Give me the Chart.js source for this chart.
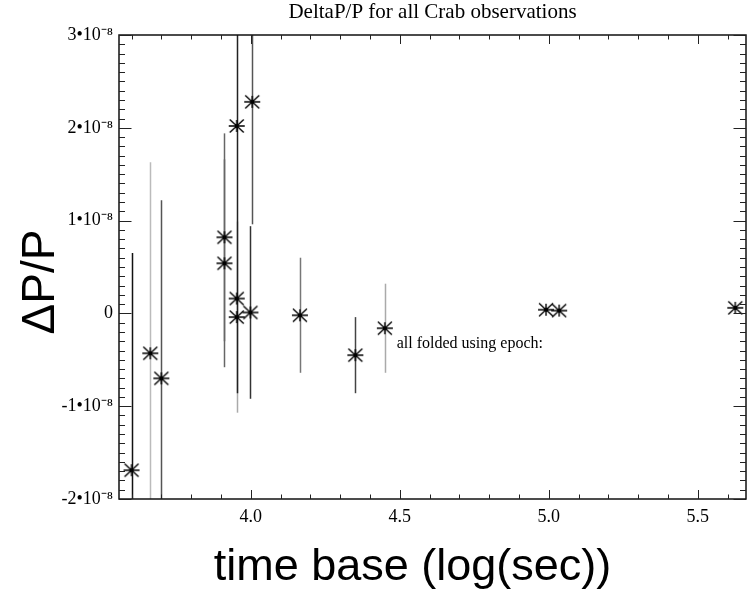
<!DOCTYPE html>
<html>
<head>
<meta charset="utf-8">
<script src="https://cdn.jsdelivr.net/npm/chart.js@4.4.1/dist/chart.umd.min.js"></script>
<style>
  body { margin: 0; background: #fff; }
  canvas { display: block; }
</style>
</head>
<body>
<canvas id="crabChart" width="749" height="591"></canvas>
<script>
// values (x = log10 of time base, y = dP/P)
const logTime  = [3.600, 3.663, 3.700, 3.912, 3.912, 3.953, 3.953, 3.953, 3.999, 4.005, 4.165, 4.351, 4.450, 4.991, 5.035, 5.626];
const deltaP   = [-1.69e-8, -0.43e-8, -0.70e-8, 0.82e-8, 0.54e-8, -0.04e-8, 0.16e-8, 2.02e-8, 0.01e-8, 2.28e-8, -0.02e-8, -0.45e-8, -0.16e-8, 0.04e-8, 0.03e-8, 0.06e-8];
const deltaErr = [2.34e-8, 2.06e-8, 1.92e-8, 1.12e-8, 1.12e-8, 1.03e-8, 0, 2.88e-8, 0.93e-8, 1.32e-8, 0.62e-8, 0.41e-8, 0.48e-8, 0.02e-8, 0.02e-8, 0.02e-8];
const errColor = ['#111', '#bbb', '#555', '#666', '#666', '#aaa', '#666', '#222', '#333', '#555', '#777', '#444', '#aaa', '#555', '#555', '#555'];

const xTickVals = [4.0, 4.5, 5.0, 5.5];
const xTickLabels = ['4.0', '4.5', '5.0', '5.5'];
const yTickVals = [-2e-8, -1e-8, 0, 1e-8, 2e-8, 3e-8];
const yTickLabels = ['-2\u202210\u207B\u2078', '-1\u202210\u207B\u2078', '0', '1\u202210\u207B\u2078', '2\u202210\u207B\u2078', '3\u202210\u207B\u2078'];

const chartTitle = 'DeltaP/P for all Crab observations';
const xTitle = 'time base (log(sec))';
const yTitle = '\u0394P/P';
const noteText = 'all folded using epoch:';
const noteX = 4.49, noteY = -0.376e-8;

// asterisk marker
const star = document.createElement('canvas');
star.width = 20; star.height = 20;
(function () {
  const g = star.getContext('2d');
  g.strokeStyle = '#000';
  g.lineWidth = 1.4;
  g.beginPath();
  g.moveTo(3, 3.5); g.lineTo(17, 16.5);
  g.moveTo(17, 3.5); g.lineTo(3, 16.5);
  g.moveTo(2, 10); g.lineTo(18, 10);
  g.moveTo(10, 4); g.lineTo(10, 16);
  g.stroke();
  g.fillStyle = '#000';
  g.beginPath(); g.arc(10, 10, 1.8, 0, Math.PI * 2); g.fill();
})();

const serif = 'Liberation Serif';
const sans = 'Liberation Sans';

const errorBars = {
  id: 'errorBars',
  beforeDatasetsDraw(chart) {
    const {ctx, chartArea: a, scales: {x, y}} = chart;
    ctx.save();
    ctx.beginPath();
    ctx.rect(a.left, a.top, a.right - a.left, a.bottom - a.top);
    ctx.clip();
    ctx.lineWidth = 1.5;
    logTime.forEach((t, i) => {
      if (!deltaErr[i]) return;
      const px = Math.round(x.getPixelForValue(t)) + 0.5;
      ctx.strokeStyle = errColor[i];
      ctx.beginPath();
      ctx.moveTo(px, y.getPixelForValue(deltaP[i] - deltaErr[i]));
      ctx.lineTo(px, y.getPixelForValue(deltaP[i] + deltaErr[i]));
      ctx.stroke();
    });
    ctx.restore();
  }
};

const frameAndText = {
  id: 'frameAndText',
  afterDraw(chart) {
    const {ctx, chartArea: a, scales: {x, y}} = chart;
    ctx.save();
    ctx.strokeStyle = '#111';
    ctx.lineWidth = 1.5;
    ctx.strokeRect(a.left, a.top, a.right - a.left, a.bottom - a.top);

    // inward ticks on all four sides
    ctx.lineWidth = 1;
    ctx.strokeStyle = '#222';
    ctx.beginPath();
    for (let k = 36; k <= 56; k++) {
      const v = k / 10;
      if (v < x.min || v > x.max) continue;
      const px = Math.round(x.getPixelForValue(v)) + 0.5;
      const len = (k % 5 === 0) ? 9 : 4.5;
      ctx.moveTo(px, a.bottom); ctx.lineTo(px, a.bottom - len);
      ctx.moveTo(px, a.top); ctx.lineTo(px, a.top + len);
    }
    for (let k = -20; k <= 30; k++) {
      const v = k * 1e-9;
      const py = Math.round(y.getPixelForValue(v)) + 0.5;
      const len = (k % 10 === 0) ? 12.5 : 6;
      ctx.moveTo(a.left, py); ctx.lineTo(a.left + len, py);
      ctx.moveTo(a.right, py); ctx.lineTo(a.right - len, py);
    }
    ctx.stroke();

    ctx.fillStyle = '#000';
    // main title
    ctx.font = '21px "' + serif + '"';
    ctx.textAlign = 'center';
    ctx.textBaseline = 'alphabetic';
    ctx.fillText(chartTitle, (a.left + a.right) / 2, 18);

    // x axis title
    ctx.font = '45px "' + sans + '"';
    ctx.fillText(xTitle, (a.left + a.right) / 2 - 20, 580);

    // y axis title
    ctx.save();
    ctx.translate(54, (a.top + a.bottom) / 2 + 15);
    ctx.rotate(-Math.PI / 2);
    ctx.font = '46px "' + sans + '"';
    ctx.fillText(yTitle, 0, 0);
    ctx.restore();

    // note
    ctx.font = '16px "' + serif + '"';
    ctx.textAlign = 'left';
    ctx.fillText(noteText, x.getPixelForValue(noteX), y.getPixelForValue(noteY));
    ctx.restore();
  }
};

const tickFont = {family: serif, size: 18};

new Chart(document.getElementById('crabChart').getContext('2d'), {
  type: 'scatter',
  data: {
    datasets: [{
      data: logTime.map((t, i) => ({x: t, y: deltaP[i]})),
      pointStyle: star,
      pointRadius: 8,
      showLine: false
    }]
  },
  options: {
    responsive: false,
    animation: false,
    devicePixelRatio: 1,
    layout: {autoPadding: false, padding: {top: 35, right: 3, left: 0, bottom: 0}},
    plugins: {legend: {display: false}, tooltip: {enabled: false}},
    scales: {
      x: {
        type: 'linear',
        min: 3.558,
        max: 5.662,
        grid: {display: false, drawTicks: false},
        border: {display: false},
        afterFit(s) { s.height = 92; s.paddingLeft = 0; s.paddingRight = 0; },
        afterBuildTicks(s) { s.ticks = xTickVals.map(v => ({value: v})); },
        ticks: {
          autoSkip: false, maxRotation: 0, padding: 7, color: '#000', font: tickFont,
          callback: (v, i) => xTickLabels[i]
        }
      },
      y: {
        type: 'linear',
        min: -2e-8,
        max: 3e-8,
        grid: {display: false, drawTicks: false},
        border: {display: false},
        afterFit(s) { s.width = 119; s.paddingTop = 0; s.paddingBottom = 0; },
        afterBuildTicks(s) { s.ticks = yTickVals.map(v => ({value: v})); },
        ticks: {
          autoSkip: false, padding: 6, color: '#000', font: tickFont,
          callback: (v, i) => yTickLabels[i]
        }
      }
    }
  },
  plugins: [errorBars, frameAndText]
});
</script>
</body>
</html>
